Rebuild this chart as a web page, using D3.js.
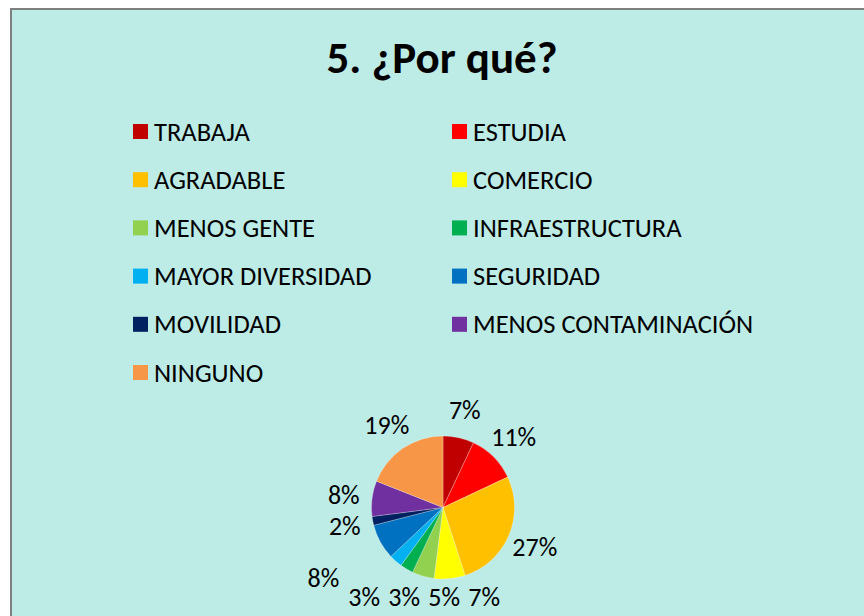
<!DOCTYPE html>
<html>
<head>
<meta charset="utf-8">
<script src="https://cdn.jsdelivr.net/npm/d3@7"></script>
<style>
  html, body { margin: 0; padding: 0; background: #fff; }
  svg { display: block; font-family: Carlito, Calibri, "Open Sans", sans-serif; }
</style>
</head>
<body>
<svg class="porQue"></svg>
<script>
const categories = ['TRABAJA', 'ESTUDIA', 'AGRADABLE', 'COMERCIO', 'MENOS GENTE', 'INFRAESTRUCTURA',
  'MAYOR DIVERSIDAD', 'SEGURIDAD', 'MOVILIDAD', 'MENOS CONTAMINACIÓN', 'NINGUNO']
const percents = [7, 11, 27, 7, 5, 3, 3, 8, 2, 8, 19]
const colors = ['#c00000', '#ff0000', '#ffc000', '#ffff00', '#92d050', '#00b050',
  '#00b0f0', '#0070c0', '#002060', '#7030a0', '#f79646']

const width = 864
const height = 616
const cx = 443
const cy = 507.5
const radius = 71.5
const labelRadius = 100
const rowMaxY = cy + 90

const svg = d3.select('svg.porQue').attr('width', width).attr('height', height)

// chart area
svg.append('rect')
  .attr('x', 11).attr('y', 9)
  .attr('width', width).attr('height', height)
  .attr('fill', '#bdebe6')
  .attr('stroke', '#7f7f7f')
  .attr('stroke-width', 2)

// title
svg.append('text')
  .attr('x', 442)
  .attr('y', 73)
  .attr('text-anchor', 'middle')
  .attr('font-size', 45)
  .attr('font-weight', 'bold')
  .attr('fill', '#000')
  .text('5. ¿Por qué?')

// legend, two columns
const colX = d3.scaleOrdinal().domain([0, 1]).range([133, 452])
const rowY = d3.scaleLinear().domain([0, 1]).range([131.5, 179.7])

const legend = svg.append('g')
  .selectAll('g')
  .data(categories)
  .enter()
  .append('g')
  .attr('transform', (d, i) => `translate(${colX(i % 2)}, ${rowY(Math.floor(i / 2))})`)

legend.append('rect')
  .attr('x', 0).attr('y', -7.5)
  .attr('width', 15).attr('height', 15)
  .attr('fill', (d, i) => colors[i])

legend.append('text')
  .attr('x', 21)
  .attr('y', 0)
  .attr('dy', '0.34em')
  .attr('font-size', 26.5)
  .attr('fill', '#000')
  .text(d => d)

// pie
const pie = d3.pie().sort(null).value(d => d)
const arcs = pie(percents)
const arc = d3.arc().innerRadius(0).outerRadius(radius)

const chart = svg.append('g').attr('transform', `translate(${cx}, ${cy})`)

chart.selectAll('path')
  .data(arcs)
  .enter()
  .append('path')
  .attr('d', arc)
  .attr('fill', (d, i) => colors[i])
  .attr('stroke', '#ffffff')
  .attr('stroke-opacity', 0.35)
  .attr('stroke-width', 0.75)

// label positions: outside the pie, bottom ones pushed into one row
const labels = arcs.map(d => {
  const a = (d.startAngle + d.endAngle) / 2
  return { a, x: Math.sin(a) * labelRadius, y: -Math.cos(a) * labelRadius, d }
})
const row = labels.filter(l => l.y > 70)
if (row.length) {
  const a0 = row[0].d.startAngle
  const a1 = row[row.length - 1].d.endAngle
  const midX = Math.sin((a0 + a1) / 2) * labelRadius + 6
  const gap = 40
  row.forEach((l, k) => {
    l.y = rowMaxY - cy
    l.x = midX + ((row.length - 1) / 2 - k) * gap
  })
}
// the label just after the row moves out and down so it clears it
const next = labels[labels.indexOf(row[row.length - 1]) + 1]
if (next && next.y > 40) {
  next.x -= 32
  next.y += 22
}

chart.selectAll('text')
  .data(labels)
  .enter()
  .append('text')
  .attr('x', l => l.x)
  .attr('y', l => l.y)
  .attr('dy', '0.34em')
  .attr('text-anchor', 'middle')
  .attr('font-size', 26)
  .attr('fill', '#000')
  .text(l => l.d.data + '%')
</script>
</body>
</html>
